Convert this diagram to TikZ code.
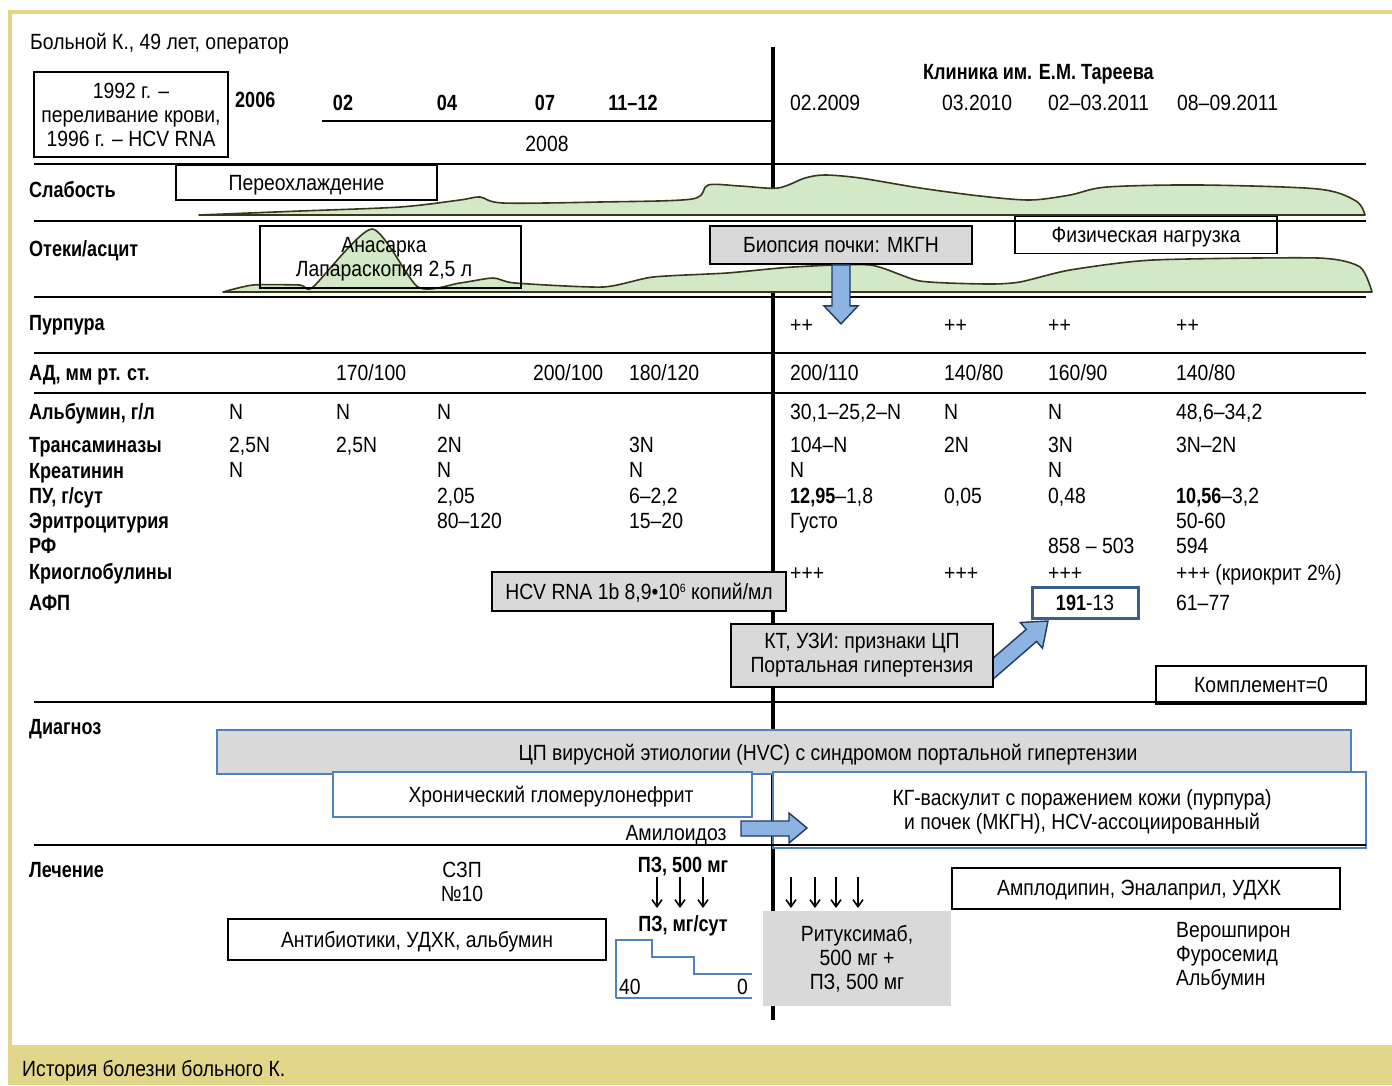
\documentclass[tikz,border=0pt]{standalone}
\usepackage{fontspec}
\setmainfont{Liberation Sans}[UprightFeatures={FakeStretch=0.88},BoldFeatures={FakeStretch=0.82}]
\usepackage{tikz}
\usetikzlibrary{arrows.meta}

\definecolor{frameyellow}{RGB}{226,214,138}
\definecolor{greenfill}{RGB}{211,232,198}
\definecolor{greenline}{RGB}{55,55,25}
\definecolor{boxgray}{RGB}{217,217,217}
\definecolor{diagblue}{RGB}{79,129,189}
\definecolor{arrowblue}{RGB}{141,179,226}
\definecolor{arrowline}{RGB}{31,56,100}
\definecolor{afpblue}{RGB}{59,94,140}
\newcommand{\basefont}{\fontsize{22}{24}\selectfont}

\begin{document}
\begin{tikzpicture}[x=1pt, y=-1pt,
    every node/.style={font=\basefont},
    lbl/.style={anchor=west, inner sep=0pt, text height=15pt, text depth=0pt, font=\basefont\bfseries},
    val/.style={anchor=west, inner sep=0pt, text height=15pt, text depth=0pt},
    mid/.style={inner sep=0pt, text height=15pt, text depth=0pt},
    sep/.style={line width=2.6pt},
    wbox/.style={draw, line width=1.8pt, fill=white, inner sep=0pt, align=center},
    gbox/.style={wbox, fill=boxgray},
    dbox/.style={wbox, draw=diagblue},
    wave/.style={draw=greenline, line width=1.6pt, fill=greenfill, line join=round},
    blockarr/.style={draw=arrowline, line width=1.4pt, fill=arrowblue},
    down/.style={-{Straight Barb[length=7pt,width=10pt]}, line width=1.6pt}]
  \useasboundingbox (0,0) rectangle (1392,1085);

  % frame and caption
  \fill[frameyellow] (8,10) rectangle (1392,14);
  \fill[frameyellow] (8,10) rectangle (12,1045);
  \fill[frameyellow] (8,1045) rectangle (1392,1085);
  \node[val] (caption) at (22,1069) {История болезни больного К.};

  % time line
  \coordinate (tt) at (773,47);
  \coordinate (tm1) at (773,190);
  \coordinate (tm2) at (773,292);
  \coordinate (tb) at (773,1020);
  \draw[line width=3.6pt] (tt) -- (tm1) (tm2) -- (tb);

  % header
  \node[val] (patient) at (30,42) {Больной К., 49 лет, оператор};
  \node[wbox, minimum width=194pt, minimum height=85pt] (hist) at (131,114.5)
    {1992 г. –\\переливание крови,\\1996 г. – HCV RNA};
  \node[lbl] (y2006) at (235,100) {2006};
  \foreach \x/\t [count=\i] in {343/02, 447/04, 545/07, 633/11–12}
    \node[mid, font=\basefont\bfseries] (m\i) at (\x,103) {\t};
  \draw[line width=2pt] (322,121) -- (772,121);
  \node[mid] (y2008) at (547,144) {2008};
  \node[lbl] (clinic) at (923,72) {Клиника им. Е.М. Тареева};
  \foreach \x/\t [count=\i] in {790/02.2009, 942/03.2010, 1048/02–03.2011, 1177/08–09.2011}
    \node[val] (d\i) at (\x,103) {\t};

  % weakness and oedema curves
  \draw[wave] plot[smooth, tension=0.5] coordinates {(199,215) (300,211) (400,207) (460,200)
    (480,197) (503,203) (600,202) (692,199) (708,185) (740,186) (778,188) (805,178)
    (825,175) (860,178) (920,188) (980,196) (1030,200) (1070,195) (1107,187) (1200,185)
    (1318,189) (1356,201) (1365,215)} -- cycle;
  \draw[wave] plot[smooth, tension=0.4] coordinates {(223,292) (253,285) (300,285) (313,287)
    (372,229) (418,287) (460,283) (493,278) (515,283) (603,287) (653,277) (727,273)
    (793,267) (870,265) (920,281) (987,284) (1020,282) (1070,270) (1153,260) (1318,258)
    (1360,267) (1372,292)} -- cycle;

  % events
  \node[wbox, minimum width=261pt, minimum height=35pt, text height=15pt, text depth=0pt]
    (cold) at (306.5,182.5) {Переохлаждение};
  \node[draw, line width=1.8pt, minimum width=261pt, minimum height=62pt] (anas) at (390.5,257) {};
  \node[inner sep=0pt, align=center] (anastext) at (384,259) {Анасарка\\Лапараскопия 2,5 л};
  \node[gbox, minimum width=262pt, minimum height=38pt, text height=15pt, text depth=0pt]
    (biop) at (841,245) {Биопсия почки: МКГН};
  \node[wbox, minimum width=262pt, minimum height=37pt, text height=15pt, text depth=0pt]
    (phys) at (1146,235) {Физическая нагрузка};

  % row labels
  \foreach \y/\t [count=\i] in {190/Слабость, 249/{Отеки/асцит}, 323/Пурпура,
      373/{АД, мм рт. ст.}, 412/{Альбумин, г/л}, 445/Трансаминазы, 471/Креатинин,
      496/{ПУ, г/сут}, 521/Эритроцитурия, 546/РФ, 572/Криоглобулины, 603/АФП,
      727/Диагноз, 870/Лечение}
    \node[lbl] (row\i) at (29,\y) {\t};

  % values
  \foreach \x [count=\i] in {790,944,1048,1176}
    \node[val] (pur\i) at (\x,325) {++};
  \foreach \x/\t [count=\i] in {336/{170/100}, 533/{200/100}, 629/{180/120}, 790/{200/110},
      944/{140/80}, 1048/{160/90}, 1176/{140/80}}
    \node[val] (bp\i) at (\x,373) {\t};
  \foreach \x/\t [count=\i] in {229/N, 336/N, 437/N, 790/{30,1–25,2–N}, 944/N, 1048/N,
      1176/{48,6–34,2}}
    \node[val] (alb\i) at (\x,412) {\t};
  \foreach \x/\t [count=\i] in {229/{2,5N}, 336/{2,5N}, 437/2N, 629/3N, 790/104–N, 944/2N,
      1048/3N, 1176/3N–2N}
    \node[val] (tr\i) at (\x,445) {\t};
  \foreach \x [count=\i] in {229,437,629,790,1048}
    \node[val] (cr\i) at (\x,470) {N};
  \foreach \x/\t [count=\i] in {437/{2,05}, 629/{6–2,2}, 790/{\textbf{12,95}–1,8},
      944/{0,05}, 1048/{0,48}, 1176/{\textbf{10,56}–3,2}}
    \node[val] (pu\i) at (\x,496) {\t};
  \foreach \x/\t [count=\i] in {437/80–120, 629/15–20, 790/Густо, 1176/50-60}
    \node[val] (er\i) at (\x,521) {\t};
  \node[val] (rf1) at (1048,546) {858 – 503};
  \node[val] (rf2) at (1176,546) {594};
  \foreach \x/\t [count=\i] in {790/+++, 944/+++, 1048/+++, 1176/{+++ (криокрит 2\%)}}
    \node[val] (cg\i) at (\x,573) {\t};
  \node[val] (afp2) at (1176,603) {61–77};

  % findings
  \node[gbox, minimum width=294pt, minimum height=39pt, text height=15pt, text depth=0pt]
    (hcv) at (639,591.5) {HCV RNA 1b 8,9•10\raisebox{7pt}{\fontsize{12}{12}\selectfont 6} копий/мл};
  \draw[blockarr] (1048,621) -- (1042.5,648.3) -- (1036.6,641.4) -- (993.2,679) --
    (982.8,667) -- (1026.2,629.4) -- (1020.3,622.5) -- cycle;
  \node[gbox, minimum width=262pt, minimum height=63pt] (ct) at (862,655.5)
    {КТ, УЗИ: признаки ЦП\\Портальная гипертензия};
  \node[wbox, draw=afpblue, line width=3pt, minimum width=106pt, minimum height=31pt,
    text height=15pt, text depth=0pt] (afp1) at (1085,602.5) {\textbf{191}-13};
  \node[wbox, minimum width=210pt, minimum height=38pt, text height=15pt, text depth=0pt]
    (compl) at (1261,685) {Комплемент=0};

  % diagnosis
  \node[dbox, fill=boxgray, minimum width=1134pt, minimum height=44pt] (cirr) at (784,752) {};
  \node[mid] (cirrtext) at (828,753) {ЦП вирусной этиологии (HVC) с синдромом портальной гипертензии};
  \node[dbox, minimum width=419pt, minimum height=45pt] (glom) at (542.5,794.5) {};
  \node[mid] (glomtext) at (551,795) {Хронический гломерулонефрит};
  \node[dbox, minimum width=593pt, minimum height=76pt] (vasc) at (1069.5,810) {};
  \node[inner sep=0pt, align=center] (vasctext) at (1082,812)
    {КГ-васкулит с поражением кожи (пурпура)\\и почек (МКГН), HCV-ассоциированный};
  \node[mid] (amyl) at (676,833) {Амилоидоз};

  % treatment
  \node[inner sep=0pt, align=center] (ffp) at (462,882) {СЗП\\№10};
  \node[mid, font=\basefont\bfseries] (pzbolus) at (683,865) {ПЗ, 500 мг};
  \foreach \x [count=\i] in {657,680,703} {
    \coordinate (pz\i) at (\x,877);
    \draw[down] (pz\i) -- ++(0,31);
  }
  \node[mid, font=\basefont\bfseries] (pzday) at (683,924) {ПЗ, мг/сут};
  \draw[diagblue, line width=1.6pt] (616,998) -- (616,940) -- (652,940) -- (652,957)
    -- (694,957) -- (694,974) -- (752,974);
  \draw[diagblue, line width=1.6pt] (616,998) -- (752,998);
  \node[val] (dose40) at (619,987) {40};
  \node[mid, anchor=east] (dose0) at (748,987) {0};
  \node[wbox, minimum width=378pt, minimum height=41pt, text height=15pt, text depth=0pt]
    (antib) at (417,939.5) {Антибиотики, УДХК, альбумин};
  \foreach \x [count=\i] in {791,815,836,858} {
    \coordinate (rtx\i) at (\x,877);
    \draw[down] (rtx\i) -- ++(0,31);
  }
  \node[fill=boxgray, inner sep=0pt, align=center, minimum width=188pt, minimum height=95pt]
    (ritux) at (857,958.5) {Ритуксимаб,\\500 мг +\\ПЗ, 500 мг};
  \node[wbox, minimum width=388pt, minimum height=41pt] (amlo) at (1146,888.5) {};
  \node[mid] (amlotext) at (1139,888) {Амплодипин, Эналаприл, УДХК};
  \node[inner sep=0pt, align=left, anchor=north west] (diur) at (1176,922.5)
    {Верошпирон\\Фуросемид\\Альбумин};

  % row separators
  \foreach \y in {164,221,297,353,393,702,845}
    \draw[sep] (34,\y) -- (1366,\y);

  % block arrows
  \draw[blockarr] (biop.south) ++(-9,0) -- ++(0,41) -- ++(-8,0) -- ++(17,18) -- ++(17,-18)
    -- ++(-8,0) -- ++(0,-41) -- cycle;
  \coordinate (amytip) at (807,828);
  \draw[blockarr] (amytip) -- ++(-18,-15) -- ++(0,8) -- ++(-48,0) -- ++(0,15) -- ++(48,0)
    -- ++(0,7) -- cycle;
\end{tikzpicture}
\end{document}
